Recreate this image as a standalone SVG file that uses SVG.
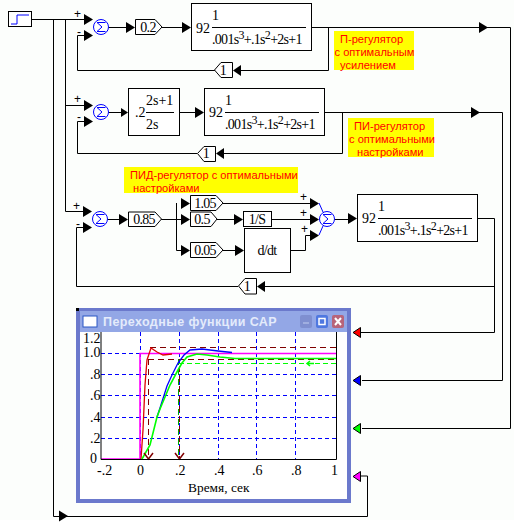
<svg xmlns="http://www.w3.org/2000/svg" width="526" height="525" viewBox="0 0 526 525">
<style>
.b{fill:#fff;stroke:#000;stroke-width:1}
.m{font:14px "Liberation Serif",serif;fill:#000}
.d{letter-spacing:-.7px}
.g{font:14px "Liberation Serif",serif;fill:#000;text-anchor:middle;letter-spacing:-.7px}
.p{font:12px "Liberation Sans",sans-serif;fill:#000}
.r{font:11.1px "Liberation Sans",sans-serif;fill:#f00}
.l{fill:none;stroke:#000;stroke-width:1}
.s{fill:none;stroke:#00f;stroke-width:1}
.a{font:14px "Liberation Serif",serif;fill:#000}
.grid{fill:none;stroke:#00f;stroke-width:1;stroke-dasharray:4 3}
.dr{fill:none;stroke:#800000;stroke-width:1;stroke-dasharray:6 4}
.y{fill:#ff0}
</style>
<defs>
<polygon id="ar" points="0,-5.500 9,0 0,5.500" fill="#000"/>
<polygon id="al" points="8,-5.500 0,0 8,5.500" fill="#000"/>
<g id="sum"><circle r="7.500" fill="#fff" stroke="#00f"/><path d="M4.500,-4.500H-4L1,0L-4,4.500H4.500" class="s"/></g>
</defs>
<rect width="514" height="520" fill="#fcfefc"/>
<g id="connectors">
<path class="l" d="M32,19.500H84M53.500,19V516.500H367.500V476H361M65.500,19V211.500H84M65,105.500H84"/>
<path class="l" d="M108,27.500H126M162,27.500H182M311,27.500H510.500V428.500H362M328.500,27V70.500H240M215,70.500H77.500V35.500H84"/>
<path class="l" d="M108,112.500H121M179,112.500H195M325,112.500H502.500V380.500H362M342.500,112V153.500H224M197,153.500H77.500V121.500H84"/>
<path class="l" d="M107,219.500H119M161,219.500H181M176.500,203V250.500H181M223,203.500H310M217,219.500H234M271,219.500H310M223,250.500H235M290,250.500H305.500V235.500H310"/>
<path class="l" d="M334,219.500H348M478,218.500H494.500V332.500H360M494,286.500H265M238,286.500H76.500V227.500H84"/>
<use href="#ar" x="84" y="19.500"/><use href="#ar" x="84" y="35.500"/><use href="#ar" x="126" y="27.500"/><use href="#ar" x="182" y="27.500"/><use href="#ar" x="479" y="27.500"/><use href="#al" x="233" y="70.500"/>
<use href="#ar" x="84" y="105.500"/><use href="#ar" x="84" y="121.500"/><polygon points="121,108 128,112.500 121,117" fill="#000"/><use href="#ar" x="195" y="112.500"/><use href="#ar" x="471" y="112.500"/><use href="#al" x="216" y="153.500"/>
<use href="#ar" x="83" y="211.500"/><use href="#ar" x="83" y="227.500"/><use href="#ar" x="119" y="219.500"/><use href="#ar" x="181" y="203.500"/><use href="#ar" x="181" y="219.500"/><use href="#ar" x="181" y="250.500"/><use href="#ar" x="234" y="219.500"/><use href="#ar" x="235" y="250.500"/>
<use href="#ar" x="310" y="203.500"/><use href="#ar" x="310" y="219.500"/><use href="#ar" x="310" y="235.500"/><use href="#ar" x="348" y="218.500"/><use href="#al" x="257" y="286.500"/>
<use href="#ar" x="59" y="516"/>
<polygon points="360.500,327.500 353,332.500 360.500,337.500" fill="#f00" stroke="#000"/>
<polygon points="360.500,375.500 353,380.500 360.500,385.500" fill="#00f" stroke="#000"/>
<polygon points="360.500,423.500 353,428.500 360.500,433.500" fill="#0f0" stroke="#000"/>
<polygon points="360.500,471.500 353,476.500 360.500,481.500" fill="#f0f" stroke="#000"/>
<path class="s" d="M319,203L323,212M319,235L323,226"/>
</g>
<g id="source"><rect class="b" x="8.500" y="11.500" width="23" height="15"/><path d="M11,24H17V15H29" class="s"/></g>
<g id="sum1"><use href="#sum" x="101" y="27"/><text class="p" x="74" y="18">+</text><text class="p" x="77" y="36">-</text></g>
<g id="gain1"><path class="b" d="M135.500,19.500H155L162,27L155,34.500H135.500Z"/><text class="g" x="148" y="32">0.2</text></g>
<g id="plant1"><rect class="b" x="191.500" y="3.500" width="120" height="47"/><path class="l" d="M212,27.500H306"/><text class="m" x="196" y="33">92</text><text class="m" x="212" y="20">1</text><text class="m d" x="212" y="44">.001s<tspan dy="-5" font-size="12">3</tspan><tspan dy="5">+.1s</tspan><tspan dy="-5" font-size="12">2</tspan><tspan dy="5">+2s+1</tspan></text></g>
<g id="fb1"><path class="b" d="M232.500,62.500V77.500H221L214.500,70L221,62.500Z"/><text class="g" x="223" y="75">1</text></g>
<g id="label1"><rect class="y" x="334" y="31" width="80" height="39"/><text class="r" x="340" y="43">П-регулятор</text><text class="r" x="334.500" y="56">с оптимальным</text><text class="r" x="340" y="69">усилением</text></g>
<g id="sum2"><use href="#sum" x="101" y="112"/><text class="p" x="74" y="103">+</text><text class="p" x="77" y="121">-</text></g>
<g id="pi"><rect class="b" x="128.500" y="88.500" width="51" height="47"/><path class="l" d="M146,112.500H174"/><text class="m" x="135" y="117">.2</text><text class="m" x="146" y="105">2s+1</text><text class="m" x="146" y="129">2s</text></g>
<g id="plant2"><rect class="b" x="204.500" y="88.500" width="120" height="47"/><path class="l" d="M225,112.500H319"/><text class="m" x="209" y="117">92</text><text class="m" x="225" y="105">1</text><text class="m d" x="225" y="129">.001s<tspan dy="-5" font-size="12">3</tspan><tspan dy="5">+.1s</tspan><tspan dy="-5" font-size="12">2</tspan><tspan dy="5">+2s+1</tspan></text></g>
<g id="fb2"><path class="b" d="M215.500,146.500V161.500H204L197.500,153.500L204,146.500Z"/><text class="g" x="206" y="158">1</text></g>
<g id="label2"><rect class="y" x="348" y="118" width="86" height="39"/><text class="r" x="354" y="130">ПИ-регулятор</text><text class="r" x="349" y="143">с оптимальными</text><text class="r" x="357" y="156">настройками</text></g>
<g id="label3"><rect class="y" x="124" y="167" width="174" height="26"/><text class="r" x="130" y="179">ПИД-регулятор с оптимальными</text><text class="r" x="133" y="192">настройками</text></g>
<g id="sum3"><use href="#sum" x="100" y="219"/><text class="p" x="73" y="210">+</text><text class="p" x="76" y="228">-</text></g>
<g id="g085"><path class="b" d="M128.500,212H155L161.500,219L155,226.500H128.500Z"/><text class="g" x="144" y="224">0.85</text></g>
<g id="g105"><path class="b" d="M190.500,195.500H216L223,203L216,210.500H190.500Z"/><text class="g" x="205" y="208">1.05</text></g>
<g id="g05"><path class="b" d="M190.500,212H211L217,219L211,226.500H190.500Z"/><text class="g" x="202" y="224">0.5</text></g>
<g id="g005"><path class="b" d="M190.500,242.500H216L223,250L216,257.500H190.500Z"/><text class="g" x="205" y="255">0.05</text></g>
<g id="int"><rect class="b" x="243.500" y="211.500" width="28" height="15"/><text class="g" x="257" y="224">1/S</text></g>
<g id="der"><rect class="b" x="244.500" y="228.500" width="46" height="44"/><text class="g" x="267" y="255">d/dt</text></g>
<g id="sum4"><use href="#sum" x="327" y="219"/><text class="p" x="300" y="201">+</text><text class="p" x="300" y="217">+</text><text class="p" x="301" y="233">+</text></g>
<g id="plant3"><rect class="b" x="357.500" y="194.500" width="120" height="47"/><path class="l" d="M378,218.500H472"/><text class="m" x="362" y="223">92</text><text class="m" x="378" y="211">1</text><text class="m d" x="378" y="235">.001s<tspan dy="-5" font-size="12">3</tspan><tspan dy="5">+.1s</tspan><tspan dy="-5" font-size="12">2</tspan><tspan dy="5">+2s+1</tspan></text></g>
<g id="fb3"><path class="b" d="M256.500,278.500V294H245L238.500,286L245,278.500Z"/><text class="g" x="247" y="291">1</text></g>
<g id="window">
<rect x="76" y="308" width="275" height="195" fill="#6b79cc"/>
<rect x="76" y="308" width="3" height="3" fill="#000"/>
<rect x="80" y="311" width="267" height="21" fill="#93a7e6"/>
<rect x="80" y="332" width="267" height="167" fill="#fff"/>
<rect x="83" y="316" width="14" height="11" fill="#fff" stroke="#2b57c4"/>
<text x="103" y="326" style="font:bold 12.500px 'Liberation Sans',sans-serif;fill:#e4ebfb;letter-spacing:.4px">Переходные функции САР</text>
<rect x="300" y="315" width="12" height="13" rx="2" fill="#7f8fd0"/><rect x="316" y="315" width="12" height="13" rx="2" fill="#4f78e0"/><rect x="332" y="315" width="12" height="13" rx="2" fill="#b8647a"/>
<path d="M303,323H309" stroke="#a0aee0" stroke-width="2"/><rect x="319" y="318.500" width="6" height="6" fill="none" stroke="#fff" stroke-width="1.500"/><path d="M335,318L341,325M341,318L335,325" stroke="#fff" stroke-width="2"/>
<path class="grid" d="M101,353.500H336M101,374.500H336M101,395.500H336M101,417.500H336M101,438.500H336M140.500,332V459M179.500,332V459M218.500,332V459M256.500,332V459M295.500,332V459"/>
<path class="dr" d="M150,347.500H336M148,359.500H336M148.500,359V459"/>
<path d="M179,363.500H336" fill="none" stroke="#0f0" stroke-width="1.200" stroke-dasharray="5 3"/>
<path d="M178.500,359V459" fill="none" stroke="#0a0" stroke-dasharray="6 4"/>
<path class="dr" d="M179.500,359V459" stroke-dashoffset="3"/>
<path d="M101,459H140V353.500H336" fill="none" stroke="#f0f" stroke-width="1.600"/>
<path d="M141,459L143,430L145,385L147,360L151,348L154,350L157,352L163,355L172,354" fill="none" stroke="#e00000" stroke-width="1.300"/>
<path d="M157,417L160,408L167,386L172,375L178,363L184,355L190,350L202,349L218,351L232,352.500" fill="none" stroke="#00f" stroke-width="1.300"/>
<path d="M142,459L150,445L157,417L160,409L170,385L178,370L182,363L187,357L197,354L207,355L220,357L235,358.500H336" fill="none" stroke="#0f0" stroke-width="1.600"/>
<path d="M144,453L148.500,459L153,453M175,453L179.500,459L184,453" fill="none" stroke="#800000" stroke-width="1.500"/>
<path d="M314,363.500H307M310,361L307,363.500L310,366" fill="none" stroke="#0f0" stroke-width="1.500"/>
<path class="l" d="M101,332V459.500H336.500V332"/>
<text class="a" x="83" y="343">1.2</text><text class="a" x="83" y="357">1.0</text><text class="a" x="90" y="379">.8</text><text class="a" x="90" y="400">.6</text><text class="a" x="90" y="422">.4</text><text class="a" x="90" y="443">.2</text><text class="a" x="90" y="463">0</text>
<text class="a" x="97" y="475">-.2</text><text class="a" x="137" y="475">0</text><text class="a" x="175" y="475">.2</text><text class="a" x="214" y="475">.4</text><text class="a" x="252" y="475">.6</text><text class="a" x="291" y="475">.8</text><text class="a" x="331" y="475">1</text>
<text class="a" x="188" y="492" style="font-size:13.400px">Время, сек</text>
</g>
</svg>
